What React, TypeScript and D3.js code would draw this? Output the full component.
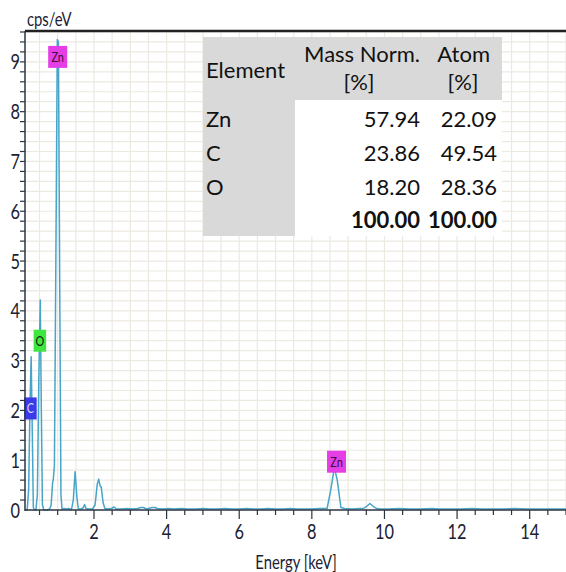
import React, { useEffect, useRef } from 'react';
import * as d3 from 'd3';

// table values
const elements = ['Zn', 'C', 'O'];
const massNorm = ['57.94', '23.86', '18.20'];
const atomPct = ['22.09', '49.54', '28.36'];
const totals = ['100.00', '100.00'];

// spectrum, keV vs cps/eV
const energy = [
  0.1, 0.16, 0.2, 0.24, 0.27, 0.3, 0.33, 0.36, 0.4, 0.44, 0.48, 0.52, 0.55, 0.58, 0.62,
  0.7, 0.78, 0.82, 0.86, 0.88, 0.91, 0.95, 0.99, 1.02, 1.06, 1.09, 1.12, 1.18, 1.24, 1.3,
  1.38, 1.43, 1.48, 1.53, 1.57, 1.64, 1.7, 1.74, 1.78, 1.86, 1.96, 2.03, 2.09, 2.13, 2.17,
  2.2, 2.25, 2.3, 2.38, 2.48, 2.55, 2.62, 2.75, 2.9, 3.05, 3.2, 3.3, 3.36, 3.45, 3.6, 3.68,
  3.75, 3.9, 4.05, 4.2, 4.4, 4.6, 4.8, 5.0, 5.2, 5.4, 5.6, 5.8, 6.0, 6.2, 6.4, 6.6, 6.8,
  7.0, 7.2, 7.4, 7.6, 7.8, 8.0, 8.2, 8.42, 8.52, 8.62, 8.7, 8.8, 8.9, 9.1, 9.3, 9.42, 9.52,
  9.6, 9.68, 9.78, 9.9, 10.1, 10.4, 10.7, 11.0, 11.3, 11.5, 11.8, 12.1, 12.4, 12.7, 13.0,
  13.3, 13.6, 13.9, 14.2, 14.5, 14.8, 15.0,
];
const cps = [
  0.0, 0.0, 0.4, 2.2, 3.08, 1.6, 0.05, 0.0, 0.0, 0.3, 2.6, 4.22, 2.0, 0.1, 0.0,
  0.0, 0.02, 0.1, 0.55, 0.62, 0.9, 5.0, 9.45, 9.4, 4.0, 0.3, 0.02, 0.03, 0.02, 0.03,
  0.01, 0.2, 0.77, 0.25, 0.02, 0.02, 0.04, 0.11, 0.03, 0.02, 0.02, 0.1, 0.52, 0.62, 0.48,
  0.46, 0.15, 0.03, 0.02, 0.03, 0.06, 0.02, 0.02, 0.03, 0.02, 0.03, 0.05, 0.05, 0.02, 0.05, 0.05,
  0.03, 0.02, 0.03, 0.02, 0.03, 0.02, 0.02, 0.03, 0.02, 0.02, 0.03, 0.02, 0.02, 0.03, 0.02, 0.02, 0.03,
  0.02, 0.02, 0.03, 0.02, 0.02, 0.02, 0.03, 0.03, 0.4, 0.85, 0.6, 0.05, 0.03, 0.02, 0.03, 0.03, 0.08,
  0.13, 0.08, 0.03, 0.02, 0.02, 0.03, 0.02, 0.02, 0.03, 0.02, 0.02, 0.02, 0.03, 0.02, 0.02,
  0.02, 0.03, 0.02, 0.02, 0.02, 0.02, 0.02,
];

// element markers
const markerNames = ['Zn', 'O', 'C', 'Zn'];
const markerEnergy = [1.0, 0.51, 0.25, 8.68];
const markerLevel = [9.1, 3.4, 2.04, 0.97];
const markerFill = ['#e63ee6', '#3ee63e', '#3a3ae8', '#e63ee6'];
const markerText = ['#3a1040', '#102010', '#d8dcff', '#3a1040'];

const yTickLabels = [0, 1, 2, 3, 4, 5, 6, 7, 8, 9];
const xTickLabels = [2, 4, 6, 8, 10, 12, 14];

const W = 566;
const H = 572;
const narrow = 'Lato, sans-serif';
const tableFont = 'Lato, sans-serif';
const squeeze = 0.78;

const App = () => {
  const ref = useRef<SVGSVGElement>(null);

  useEffect(() => {
    document.body.style.margin = '0';
    const svg = d3.select(ref.current);
    svg.selectAll('*').remove();

    const x = d3.scaleLinear().domain([0.1, 15]).range([25, W]);
    const y = d3.scaleLinear().domain([0, 9.62]).range([510, 31]);

    // condensed text, drawn squeezed horizontally
    const label = (
      g: d3.Selection<any, any, any, any>,
      t: string,
      tx: number,
      ty: number,
      anchor: string,
      size: number
    ) =>
      g
        .append('text')
        .attr('transform', `translate(${tx},${ty}) scale(${squeeze},1)`)
        .attr('text-anchor', anchor)
        .attr('font-family', narrow)
        .attr('font-size', size)
        .attr('fill', '#1c2233')
        .text(t);

    // grid
    const grid = svg.append('g').attr('stroke', '#ece9e1').attr('stroke-width', 1.2);
    grid
      .selectAll('line.v')
      .data(d3.range(0.5, 15.01, 0.5))
      .enter()
      .append('line')
      .attr('x1', (d) => x(d))
      .attr('x2', (d) => x(d))
      .attr('y1', y(9.62))
      .attr('y2', y(0));
    grid
      .selectAll('line.h')
      .data(d3.range(0.2, 9.62, 0.2))
      .enter()
      .append('line')
      .attr('x1', x(0.1))
      .attr('x2', W)
      .attr('y1', (d) => y(d))
      .attr('y2', (d) => y(d));

    // table
    const tb = svg.append('g');
    tb.append('rect').attr('x', 203).attr('y', 37).attr('width', 299).attr('height', 199).attr('fill', '#d9d9d9');
    tb.append('rect').attr('x', 295).attr('y', 100).attr('width', 207).attr('height', 136).attr('fill', '#fff');
    const txt = (t: string, tx: number, ty: number, anchor: string, bold = false) =>
      tb
        .append('text')
        .attr('x', tx)
        .attr('y', ty)
        .attr('text-anchor', anchor)
        .attr('font-family', tableFont)
        .attr('font-size', 22)
        .attr('font-weight', bold ? 'bold' : 'normal')
        .attr('fill', '#111')
        .text(t);
    txt('Element', 206, 78, 'start');
    txt('Mass Norm.', 420, 62, 'end');
    txt('[%]', 359, 90, 'middle');
    txt('Atom', 490, 62, 'end');
    txt('[%]', 463, 90, 'middle');
    elements.forEach((el, i) => {
      const by = 127 + i * 34;
      txt(el, 206, by, 'start');
      txt(massNorm[i], 420, by, 'end');
      txt(atomPct[i], 497, by, 'end');
    });
    txt(totals[0], 420, 228, 'end', true);
    txt(totals[1], 497, 228, 'end', true);

    // spectrum
    const line = d3
      .line<number>()
      .x((_, i) => x(energy[i]))
      .y((d) => y(d));
    svg
      .append('path')
      .datum(cps)
      .attr('fill', 'none')
      .attr('stroke', '#47a5c9')
      .attr('stroke-width', 1.5)
      .attr('stroke-linejoin', 'round')
      .attr('d', line);

    // element markers
    const mk = svg
      .append('g')
      .selectAll('g')
      .data(markerNames)
      .enter()
      .append('g')
      .attr('transform', (_, i) => `translate(${x(markerEnergy[i])},${y(markerLevel[i])})`);
    mk.append('rect')
      .attr('x', (d) => -(6 + 6.5 * d.length) / 2)
      .attr('y', -11)
      .attr('width', (d) => 6 + 6.5 * d.length)
      .attr('height', 22)
      .attr('fill', (_, i) => markerFill[i]);
    mk.append('text')
      .attr('text-anchor', 'middle')
      .attr('transform', `translate(0,5) scale(${squeeze},1)`)
      .attr('font-family', narrow)
      .attr('font-size', 14)
      .attr('fill', (_, i) => markerText[i])
      .text((d) => d);

    // axes
    const axisColor = '#2b3440';
    const xAxis = svg.append('g');
    xAxis
      .selectAll('line')
      .data(d3.range(0.5, 15.01, 0.5))
      .enter()
      .append('line')
      .attr('x1', (d) => x(d))
      .attr('x2', (d) => x(d))
      .attr('y1', y(0))
      .attr('y2', (d) => y(0) + (d % 2 === 0 ? 9 : 5))
      .attr('stroke', axisColor)
      .attr('stroke-width', 1.2);
    xTickLabels.forEach((d) => label(xAxis, String(d), x(d), 539, 'middle', 21));
    svg.append('line').attr('x1', x(0.1)).attr('x2', W).attr('y1', y(0)).attr('y2', y(0)).attr('stroke', axisColor).attr('stroke-width', 1.5);

    const yAxis = svg.append('g');
    yAxis
      .selectAll('line')
      .data(d3.range(0.2, 9.62, 0.2))
      .enter()
      .append('line')
      .attr('x1', x(0.1) - 5)
      .attr('x2', x(0.1))
      .attr('y1', (d) => y(d))
      .attr('y2', (d) => y(d))
      .attr('stroke', axisColor)
      .attr('stroke-width', 1.2);
    yTickLabels.forEach((d) => label(yAxis, String(d), 20, y(d) + 7.5, 'end', 21));
    svg.append('line').attr('x1', x(0.1)).attr('x2', x(0.1)).attr('y1', y(0) + 1).attr('y2', y(9.62)).attr('stroke', axisColor).attr('stroke-width', 1.5);
    svg.append('line').attr('x1', x(0.1)).attr('x2', W).attr('y1', y(9.62)).attr('y2', y(9.62)).attr('stroke', '#222').attr('stroke-width', 2.5);

    label(svg, 'cps/eV', 27, 26, 'start', 19);
    label(svg, 'Energy [keV]', 296, 569, 'middle', 19);
  }, []);

  return <svg ref={ref} width={W} height={H} style={{ display: 'block', background: '#fff' }} />;
};

export default App;
